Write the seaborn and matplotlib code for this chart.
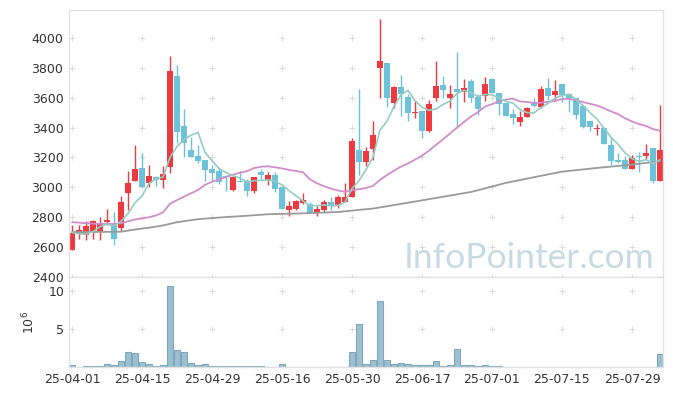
import numpy as np
import pandas as pd
import matplotlib
matplotlib.use("Agg")
import matplotlib.pyplot as plt
import seaborn as sns

dates = ["2025-04-01","2025-04-02","2025-04-03","2025-04-04","2025-04-07","2025-04-08","2025-04-09","2025-04-10","2025-04-11","2025-04-14",
         "2025-04-15","2025-04-16","2025-04-17","2025-04-18","2025-04-21","2025-04-22","2025-04-23","2025-04-24","2025-04-25","2025-04-28",
         "2025-04-29","2025-04-30","2025-05-02","2025-05-07","2025-05-08","2025-05-09","2025-05-12","2025-05-13","2025-05-14","2025-05-15",
         "2025-05-16","2025-05-19","2025-05-20","2025-05-21","2025-05-22","2025-05-23","2025-05-26","2025-05-27","2025-05-28","2025-05-29",
         "2025-05-30","2025-06-02","2025-06-04","2025-06-05","2025-06-09","2025-06-10","2025-06-11","2025-06-12","2025-06-13","2025-06-16",
         "2025-06-17","2025-06-18","2025-06-19","2025-06-20","2025-06-23","2025-06-24","2025-06-25","2025-06-26","2025-06-27","2025-06-30",
         "2025-07-01","2025-07-02","2025-07-03","2025-07-04","2025-07-07","2025-07-08","2025-07-09","2025-07-10","2025-07-11","2025-07-14",
         "2025-07-15","2025-07-16","2025-07-17","2025-07-18","2025-07-21","2025-07-22","2025-07-23","2025-07-24","2025-07-25","2025-07-28",
         "2025-07-29","2025-07-30","2025-07-31","2025-08-01","2025-08-04"]

open_ = [2578,2689,2678,2705,2705,2771,2754,2731,2965,3045,
         3129,3027,3071,3051,3138,3742,3409,3249,3209,3180,
         3122,3109,3073,2985,3040,3040,2974,3102,3051,3082,
         3002,2849,2856,2893,2887,2831,2849,2900,2885,2905,
         2938,3249,3167,3256,3798,3829,3565,3669,3607,3498,
         3509,3376,3598,3687,3600,3660,3638,3709,3605,3613,
         3722,3629,3562,3489,3438,3471,3567,3538,3662,3618,
         3689,3622,3600,3545,3447,3389,3396,3282,3182,3180,
         3122,3209,3211,3262,3045]
high = [2749,2749,2776,2780,2800,2854,2834,2940,3107,3282,
        3227,3149,3078,3145,3882,3822,3527,3338,3285,3182,
        3149,3129,3082,3078,3111,3056,3067,3122,3105,3100,
        3002,2911,2918,2960,2900,2874,2918,2934,2949,3027,
        3327,3660,3267,3447,4127,3829,3676,3749,3622,3578,
        3509,3585,3845,3745,3682,3907,3722,3722,3627,3740,
        3731,3629,3562,3522,3509,3538,3598,3678,3729,3716,
        3689,3622,3600,3545,3447,3427,3396,3334,3229,3211,
        3216,3238,3289,3262,3551]
low = [2578,2656,2645,2656,2649,2749,2611,2711,2851,3040,
       3000,3000,3007,2994,3094,3300,3205,3200,3162,3042,
       3045,3022,2976,2976,3034,2940,2963,3056,3016,2967,
       2856,2807,2849,2889,2829,2807,2834,2849,2862,2900,
       2933,3085,3145,3185,3600,3540,3529,3478,3445,3467,
       3327,3371,3578,3598,3529,3400,3571,3573,3482,3578,
       3629,3482,3478,3427,3411,3471,3540,3529,3582,3578,
       3571,3505,3456,3400,3378,3351,3291,3149,3162,3122,
       3122,3100,3189,3029,3040]
close = [2696,2716,2740,2776,2756,2782,2651,2902,3029,3122,
         3005,3076,3051,3089,3782,3371,3300,3205,3178,3118,
         3094,3034,3071,3071,3038,2974,3067,3085,3085,2989,
         2856,2876,2909,2916,2829,2856,2900,2878,2934,2938,
         3309,3167,3240,3353,3849,3600,3669,3627,3500,3507,
         3380,3560,3676,3649,3622,3638,3662,3596,3522,3689,
         3629,3556,3478,3465,3474,3529,3545,3656,3611,3645,
         3616,3589,3485,3405,3405,3400,3291,3176,3171,3122,
         3198,3205,3229,3045,3249]
# volume in units of 10^6 shares
volume = [0.22,0.0,0.09,0.09,0.09,0.35,0.22,0.8,1.93,1.8,
          0.61,0.35,0.09,0.22,10.66,2.24,1.97,0.48,0.26,0.35,
          0.09,0.09,0.09,0.09,0.09,0.09,0.09,0.09,0.0,0.05,
          0.35,0.0,0.0,0.0,0.0,0.0,0.0,0.06,0.0,0.06,
          1.93,5.6,0.35,0.88,8.64,0.88,0.35,0.48,0.35,0.22,
          0.22,0.22,0.75,0.09,0.22,2.32,0.22,0.22,0.09,0.22,
          0.09,0.09,0.0,0.0,0.0,0.0,0.0,0.06,0.06,0.06,
          0.06,0.0,0.06,0.0,0.0,0.0,0.0,0.06,0.0,0.0,
          0.0,0.0,0.0,0.06,1.67]
# moving-average values before the full window is available
ma5_head = [2698, 2688, 2688, 2703]
ma20_head = [2767, 2764, 2760, 2757, 2756, 2756, 2756, 2760, 2772, 2785,
             2792, 2800, 2812, 2833, 2890, 2915, 2938, 2960, 2982]
# long moving average
malong_idx = [0, 7, 9, 11, 13, 15, 18, 21, 25, 28, 33, 38, 41, 43, 50, 57, 62, 66, 70, 75, 80, 84]
malong_val = [2700, 2703, 2718, 2730, 2745, 2767, 2787, 2798, 2810, 2820, 2826, 2835, 2849, 2858,
              2913, 2969, 3030, 3068, 3105, 3130, 3152, 3175]
watermark = "InfoPointer.com"

df = pd.DataFrame({"date": pd.to_datetime(dates), "open": open_, "high": high,
                   "low": low, "close": close, "volume": volume})
df["i"] = np.arange(len(df))
ma5 = df["close"].rolling(5).mean().to_numpy()
ma5[:len(ma5_head)] = ma5_head
ma20 = df["close"].rolling(20).mean().to_numpy()
ma20[:len(ma20_head)] = ma20_head
df["ma5"] = ma5
df["ma20"] = ma20
dl = pd.DataFrame({"i": malong_idx, "ma": malong_val})

sns.set_style("white")
plt.rcParams["font.family"] = ["DejaVu Sans"]

UP = "#ee3a3e"
DOWN = "#6cc2d8"
SPINE = "#e2e2e2"
TXT = "#333333"

fig = plt.figure(figsize=(6.73, 3.96), dpi=100)
W, H = 673, 396
axp = fig.add_axes([69 / W, (H - 277) / H, 594 / W, 267 / H])
axv = fig.add_axes([69 / W, (H - 367) / H, 594 / W, 90 / H], sharex=axp)

up = df["close"] >= df["open"]
colors = np.where(up, UP, DOWN)
axp.vlines(df["i"], df["low"], df["high"], colors=colors, lw=1.0, zorder=2)
body_h = np.maximum((df["close"] - df["open"]).abs(), 6)
body_b = np.minimum(df["open"], df["close"])
axp.bar(df["i"], body_h, bottom=body_b, width=0.72, color=colors, lw=0, zorder=2)

sns.lineplot(data=dl, x="i", y="ma", ax=axp, color="#9a9a9a", lw=1.3, zorder=3)
sns.lineplot(data=df, x="i", y="ma20", ax=axp, color="#d18dcb", lw=1.3, zorder=3)
sns.lineplot(data=df, x="i", y="ma5", ax=axp, color="#94cdc2", lw=1.2, zorder=3)

xlim = (-0.43, 84.43)
axp.set_xlim(*xlim)
axp.set_ylim(2400, 4187)
yt = np.arange(2400, 4001, 200)
xt = np.arange(0, len(df), 10)
axp.set_yticks(yt)
axp.set_xticks(xt)
axp.set_xlabel("")
axp.set_ylabel("")
axp.tick_params(axis="x", labelbottom=False, length=0)
axp.tick_params(axis="y", length=0, labelsize=9, labelcolor=TXT, pad=4)
gx, gy = np.meshgrid(xt, yt)
axp.plot(gx.ravel(), gy.ravel(), ls="none", marker="+", ms=4, mew=0.8, color="#dcdcdc", zorder=1)

axp.text(0.9865, 0.035, watermark, transform=axp.transAxes, ha="right", va="baseline",
         fontsize=25.5, color="#c8dae4", family="Lato", zorder=0)

sns.barplot(x=df["i"], y=df["volume"], ax=axv, native_scale=True, color="#9cc0d0",
            edgecolor="#7ea9bc", linewidth=0.8, width=0.95, saturation=1, zorder=2)
axv.set_xlim(*xlim)
axv.set_ylim(0, 11.84)
axv.set_yticks([5, 10])
axv.set_xticks(xt)
axv.set_xticklabels([df["date"][k].strftime("%y-%m-%d") for k in xt])
axv.set_xlabel("")
axv.set_ylabel("$10^6$", fontsize=9, color=TXT, labelpad=8)
axv.tick_params(axis="both", length=0, labelsize=9, labelcolor=TXT)
axv.tick_params(axis="x", pad=4)
gx2, gy2 = np.meshgrid(xt, [5, 10])
axv.plot(gx2.ravel(), gy2.ravel(), ls="none", marker="+", ms=4, mew=0.8, color="#dcdcdc", zorder=1)

for ax in (axp, axv):
    for s in ax.spines.values():
        s.set_color(SPINE)
        s.set_linewidth(1.0)

fig.savefig("out.png", dpi=100)
